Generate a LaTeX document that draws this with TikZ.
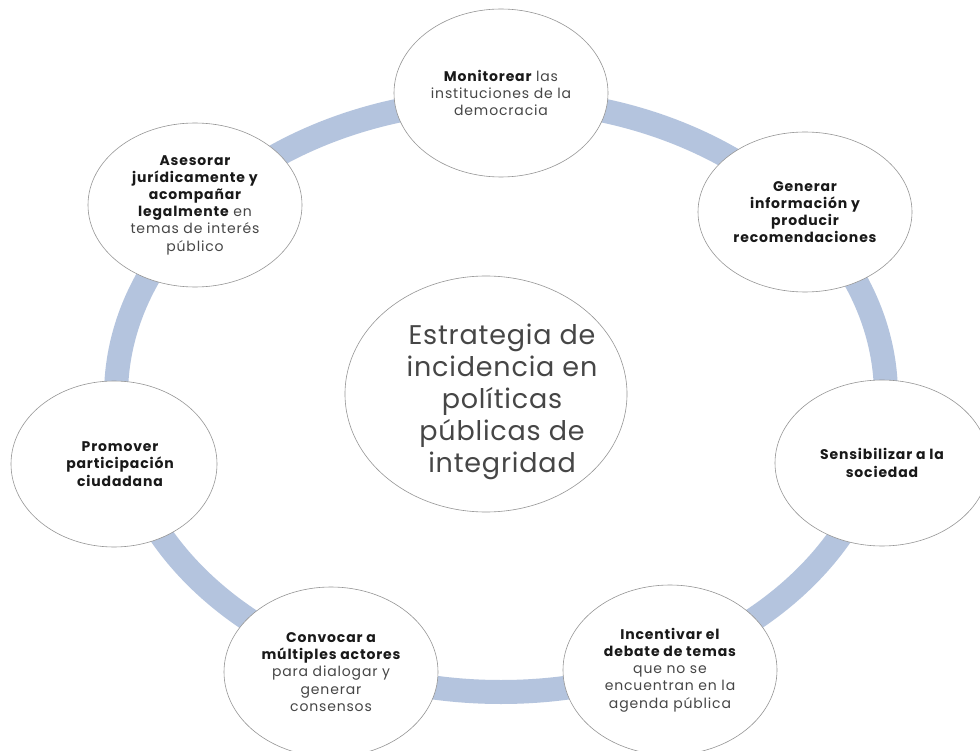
\documentclass[tikz,border=0pt]{standalone}
\usepackage{fontspec}
\setmainfont{Poppins}[LetterSpace=6]
\newfontfamily\hubfont{Poppins}[LetterSpace=3]
\usetikzlibrary{shapes.geometric}
\definecolor{ringblue}{RGB}{180,196,222}
\definecolor{edgegray}{RGB}{150,150,150}
\definecolor{txtgray}{RGB}{70,70,70}
\definecolor{txtdark}{RGB}{25,25,25}
\tikzset{
  bubble/.style={ellipse, draw=edgegray, line width=0.6pt, fill=white,
    minimum width=214pt, minimum height=168pt, inner sep=0pt,
    align=center, text=txtgray, font=\fontsize{14}{17.2}\selectfont},
  hub/.style={ellipse, draw=edgegray, line width=0.6pt, fill=white,
    minimum width=282pt, minimum height=236pt, inner sep=0pt},
  hubtext/.style={align=center, text=txtgray, inner sep=0pt,
    font=\hubfont\fontsize{27}{32}\selectfont},
  ringline/.style={draw=ringblue, line width=24pt}
}
\newcommand{\bk}[1]{\textcolor{txtdark}{\bfseries #1}}
\begin{document}
\begin{tikzpicture}[x=1pt,y=-1pt]
\useasboundingbox (0,0) rectangle (980,751);
\clip (0,0) rectangle (980,751);
\fill[white] (0,0) rectangle (980,751);
\draw[ringline] (501,396) ellipse [x radius=385, y radius=296];
\node[hub] (center) at (486,394) {};
\node[hubtext] (centertxt) at (502,402) {Estrategia de\\incidencia en\\políticas\\públicas de\\integridad};
\node[bubble] (mon) at (501,93) {\bk{Monitorear} las\\instituciones de la\\democracia};
\node[bubble, minimum height=160pt] (gen) at (805,212) {\bk{Generar}\\\bk{información y}\\\bk{producir}\\\bk{recomendaciones}};
\node[bubble, minimum height=164pt] (ase) at (195,205) {\bk{Asesorar}\\\bk{jurídicamente y}\\\bk{acompañar}\\\bk{legalmente} en\\temas de interés\\público};
\node[bubble, minimum height=166pt] (sen) at (882,463) {\bk{Sensibilizar a la}\\\bk{sociedad}};
\node[bubble, minimum width=206pt, minimum height=166pt] (pro) at (114,464) {};
\node[align=center, inner sep=0pt, text=txtgray, font=\fontsize{14}{17.2}\selectfont] (protxt) at (120,464) {\bk{Promover}\\\bk{participación}\\\bk{ciudadana}};
\node[bubble, minimum height=170pt] (con) at (331,672) {\bk{Convocar a}\\\bk{múltiples actores}\\para dialogar y\\generar\\consensos};
\node[bubble, minimum height=170pt] (inc) at (670,670) {\bk{Incentivar el}\\\bk{debate de temas}\\que no se\\encuentran en la\\agenda pública};
\end{tikzpicture}
\end{document}
